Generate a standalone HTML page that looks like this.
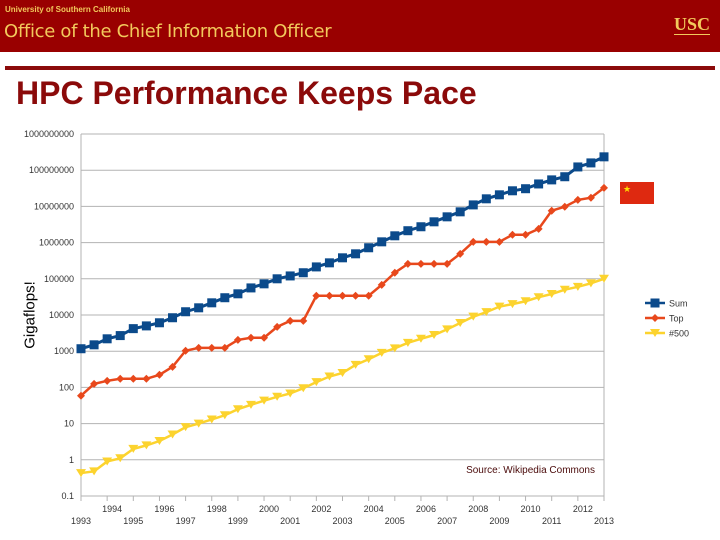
<!DOCTYPE html>
<html><head><meta charset="utf-8"><style>
body{margin:0;width:720px;height:540px;background:#fff;overflow:hidden;font-family:"Liberation Sans",sans-serif;position:relative}
.hdr{position:absolute;left:0;top:0;width:720px;height:52px;background:#990000}
</style></head><body>
<div class="hdr">
 <div style="position:absolute;left:5px;top:5px;font-size:8px;font-weight:bold;color:#f2c95c">University of Southern California</div>
 <div style="position:absolute;left:4px;top:21px;font-size:18px;color:#f2c95c;font-family:'DejaVu Sans',sans-serif;letter-spacing:-0.3px">Office of the Chief Information Officer</div>
 <div style="position:absolute;left:674px;top:14px;font-size:18px;font-weight:bold;color:#f2c95c;font-family:'Liberation Serif',serif;border-bottom:1px solid #f2c95c;line-height:20px">USC</div>
</div>
<div style="position:absolute;left:5px;top:66px;width:710px;height:4px;background:#8b0a0a"></div>
<div style="position:absolute;left:16px;top:75px;font-size:32px;font-weight:bold;color:#8b0a0a;line-height:36px">HPC Performance Keeps Pace</div>
<div style="position:absolute;left:30px;top:315px;transform:translate(-50%,-50%) rotate(-90deg);font-size:15px;color:#000;white-space:nowrap">Gigaflops!</div>
<svg id="chart" width="720" height="540" style="position:absolute;left:0;top:0"></svg>
<script>
const years=[];for(let i=0;i<=40;i++)years.push(1993+i/2);
const sumValues=[1170,1500,2200,2700,4200,5000,6100,8400,12300,15800,21700,30000,38500,56000,72600,100000,120000,147000,213000,276000,380000,490000,720000,1050000,1540000,2130000,2740000,3750000,5150000,7080000,11000000,16200000,20900000,27000000,30800000,41700000,54000000,66000000,123000000,159000000,234000000];
const topValues=[59,125,152,173,173,173,223,370,1030,1240,1240,1240,2050,2350,2350,4700,6900,6900,34000,34000,34000,34000,34000,68000,147000,259000,259000,259000,259000,490000,1050000,1050000,1050000,1650000,1650000,2400000,7600000,9800000,15100000,17400000,32500000];
const n500Values=[0.43,0.48,0.9,1.1,2,2.5,3.3,5,8,10,13,17,25,33,43,55,68,95,140,200,250,420,600,900,1200,1700,2200,2800,4000,6000,9000,12000,17000,20000,24000,31000,38000,50000,60000,75000,100000];
const yTickLabels=["0.1","1","10","100","1000","10000","100000","1000000","10000000","100000000","1000000000"];
const yTickValues=[0.1,1,10,100,1000,10000,100000,1000000,10000000,100000000,1000000000];
const xTickYears=[1993,1994,1995,1996,1997,1998,1999,2000,2001,2002,2003,2004,2005,2006,2007,2008,2009,2010,2011,2012,2013];
const seriesNames=["Sum","Top","#500"];
const X0=81,X1=604,Y0=496,Y1=134;
const xs=v=>X0+(v-1993)/20*(X1-X0);
const ys=v=>Y0-(Math.log10(v)+1)/10*(Y0-Y1);
const svg=document.getElementById('chart');const NS='http://www.w3.org/2000/svg';
function mk(t,a){const e=document.createElementNS(NS,t);for(const k in a)e.setAttribute(k,a[k]);svg.appendChild(e);return e;}
yTickValues.forEach((v,i)=>{
 const g=mk('line',{x1:X0,x2:X1,y1:ys(v),y2:ys(v),stroke:'#b3b3b3','stroke-width':1});
 
 
 const t=mk('text',{x:74,y:ys(v)+3,'text-anchor':'end','font-size':9,fill:'#333','font-family':'Liberation Sans,sans-serif'});
 t.textContent=yTickLabels[i];
 
 
});
const ax=mk('line',{x1:X0,x2:X0,y1:Y1,y2:Y0,stroke:'#b3b3b3'});


const rx=mk('line',{x1:X1,x2:X1,y1:Y1,y2:Y0,stroke:'#b3b3b3'});


xTickYears.forEach((yr,i)=>{
 const tk=mk('line',{x1:xs(yr),x2:xs(yr),y1:Y0,y2:Y0+5,stroke:'#b3b3b3'});
 
 
 const t=mk('text',{x:xs(yr)+(i%2?5:0),y:i%2?512:524,'text-anchor':'middle','font-size':9,fill:'#333','font-family':'Liberation Sans,sans-serif'});
 t.textContent=yr;
 
 
});
function marker(kind,x,y,c){
 if(kind==0)return mk('rect',{x:x-4.5,y:y-4.5,width:9,height:9,fill:c});
 if(kind==1)return mk('polygon',{points:`${x},${y-4} ${x+4},${y} ${x},${y+4} ${x-4},${y}`,fill:c});
 return mk('polygon',{points:`${x-5},${y-4} ${x+5},${y-4} ${x},${y+4}`,fill:c});
}
const colors=['#0b4a8b','#e8481c','#fcd32e'];
[sumValues,topValues,n500Values].forEach((vals,k)=>{
 const p=mk('polyline',{points:vals.map((v,i)=>xs(years[i])+','+ys(v)).join(' '),fill:'none',stroke:colors[k],'stroke-width':k==0?3:2.5});
 
 
 vals.forEach((v,i)=>{const m=marker(k,xs(years[i]),ys(v),colors[k]);
  
  });
});
seriesNames.forEach((s,k)=>{
 const y=303+k*15;
 const l=mk('line',{x1:645,x2:665,y1:y,y2:y,stroke:colors[k],'stroke-width':2.5});
 
 
 const m=marker(k,655,y,colors[k]);
 
 
 const t=mk('text',{x:669,y:y+3.5,'font-size':9,fill:'#333','font-family':'Liberation Sans,sans-serif'});
 t.textContent=s;
 
 
});
const src=mk('text',{x:595,y:473,'text-anchor':'end','font-size':10,fill:'#4a0a0a','font-family':'Liberation Sans,sans-serif'});
src.textContent='Source: Wikipedia Commons';


const fl=mk('rect',{x:620,y:182,width:34,height:22,fill:'#de2910'});


const st=mk('text',{x:623,y:192,'font-size':9,fill:'#ffde00'});
st.textContent='★';


</script>
</body></html>
